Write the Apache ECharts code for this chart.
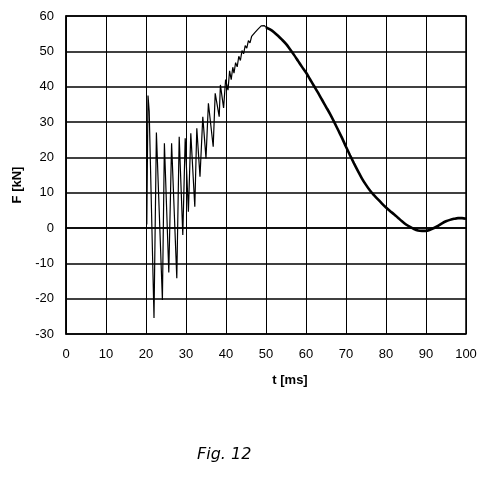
<!DOCTYPE html>
<html>
<head>
<meta charset="utf-8">
<script src="https://cdn.jsdelivr.net/npm/echarts@6/dist/echarts.min.js"></script>
<style>
  html, body { margin: 0; padding: 0; background: #fff; }
  #main { width: 491px; height: 477px; }
</style>
</head>
<body>
<div id="main"></div>
<script>
// oscillating start of the impact (t in ms, F in kN)
const oscT = [20.2, 20.5, 20.8, 22.0, 22.6, 24.1, 24.6, 25.7, 26.4, 27.7, 28.3, 29.2, 29.8, 30.6, 31.2, 32.2, 32.7, 33.5, 34.2, 35.0, 35.6, 36.8, 37.3, 38.3, 38.6, 39.4, 39.9, 40.5, 40.9, 41.3, 41.7, 42.0, 42.4, 42.8, 43.2, 43.6, 44.0, 44.4, 44.8, 45.2, 45.6, 46.0, 46.4, 46.8, 47.2, 47.6, 48.0, 48.4, 48.8, 49.2, 49.6, 50.0];
const oscF = [1, 37.5, 33, -25.5, 27, -20.4, 24, -12.6, 24, -14.2, 25.8, -2, 25.4, 4.6, 26.8, 6, 28.2, 14.5, 31.5, 19.7, 35.3, 23, 38.1, 31.5, 40.5, 34, 42, 39, 44.5, 42, 45.5, 43.8, 46.8, 45.6, 48.6, 47.4, 50.2, 49.3, 51.6, 50.9, 53, 52.4, 54.2, 53.7, 55.3, 55, 56.3, 56.1, 57.2, 56.9, 57.3, 56.8];
// smooth decay after the maximum
const curveT = [50, 51, 52, 53, 54, 55, 56, 57, 58, 59, 60, 61, 62, 63, 64, 65, 66, 67, 68, 69, 70, 71, 72, 73, 74, 75, 76, 77, 78, 79, 80, 81, 82, 83, 84, 85, 86, 87, 88, 89, 90, 91, 92, 93, 94, 95, 96, 97, 98, 99, 100];
const curveF = [56.8, 56.2, 55.4, 54.4, 53.3, 52.1, 50.6, 49, 47.3, 45.6, 44, 42.1, 40.2, 38.3, 36.3, 34.3, 32.3, 30.1, 27.8, 25.5, 23, 20.6, 18.3, 16.1, 14, 12.2, 10.6, 9.3, 8.1, 6.9, 5.8, 4.8, 3.9, 2.9, 1.9, 1, 0.3, -0.3, -0.7, -0.8, -0.8, -0.5, 0, 0.6, 1.3, 1.9, 2.3, 2.6, 2.8, 2.8, 2.6];

const font = "Liberation Sans";
const oscData = oscT.map((t, i) => [t, oscF[i]]);
const curveData = curveT.map((t, i) => [t, curveF[i]]);

const option = {
  backgroundColor: "#fff",
  animation: false,
  grid: { left: 66, right: 25, top: 16, bottom: 143 },
  xAxis: {
    type: "value",
    min: 0,
    max: 100,
    interval: 10,
    name: "t [ms]",
    nameLocation: "middle",
    nameGap: 40,
    nameTextStyle: { fontFamily: font, fontSize: 13, fontWeight: "bold", color: "#000", padding: [0, 0, 0, 48] },
    axisLine: { show: true, lineStyle: { color: "#000", width: 1.5 } },
    axisTick: { show: false },
    axisLabel: { fontFamily: font, fontSize: 13, color: "#000", margin: 14 },
    splitLine: { show: true, lineStyle: { color: "#000", width: 1 } }
  },
  yAxis: {
    type: "value",
    min: -30,
    max: 60,
    interval: 10,
    name: "F [kN]",
    nameLocation: "middle",
    nameGap: 40,
    nameRotate: 90,
    nameTextStyle: { fontFamily: font, fontSize: 13, fontWeight: "bold", color: "#000", padding: [0, 20, 0, 0] },
    axisLine: { show: true, lineStyle: { color: "#000", width: 1.5 } },
    axisTick: { show: false },
    axisLabel: { fontFamily: font, fontSize: 13, color: "#000", margin: 12 },
    splitLine: { show: true, lineStyle: { color: "#000", width: 1.5 } }
  },
  series: [
    {
      type: "line",
      data: oscData,
      showSymbol: false,
      lineStyle: { color: "#000", width: 1.2 }
    },
    {
      type: "line",
      data: curveData,
      showSymbol: false,
      smooth: 0.3,
      lineStyle: { color: "#000", width: 2.6 }
    }
  ],
  graphic: [
    {
      type: "text",
      left: 197,
      top: 447,
      style: { text: "Fig. 12", font: "italic 16px 'DejaVu Sans'", fill: "#000" }
    },
    {
      type: "rect",
      shape: { x: 66, y: 16, width: 400, height: 318 },
      style: { fill: "none", stroke: "#000", lineWidth: 1.5 },
      z: 10
    }
  ]
};

const myChart = echarts.init(document.getElementById("main"));
myChart.setOption(option);
</script>
</body>
</html>
